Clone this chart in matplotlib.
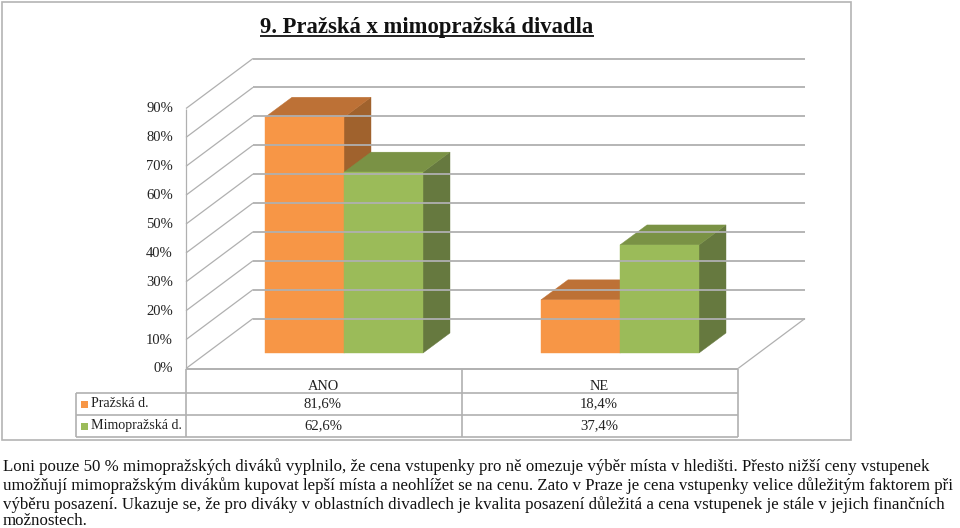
import matplotlib
matplotlib.use("Agg")
import matplotlib.pyplot as plt
from matplotlib.patches import Polygon, Rectangle

plt.rcParams['font.family'] = ['Liberation Serif', 'DejaVu Serif']

categories = ["ANO", "NE"]
series_names = ["Pražská d.", "Mimopražská d."]
prazska = [81.6, 18.4]
mimoprazska = [62.6, 37.4]
prazska_labels = ["81,6%", "18,4%"]
mimoprazska_labels = ["62,6%", "37,4%"]
ticks = [0, 10, 20, 30, 40, 50, 60, 70, 80, 90]
title = "9. Pražská x mimopražská divadla"
body = [
    "Loni pouze 50 % mimopražských diváků vyplnilo, že cena vstupenky pro ně omezuje výběr místa v hledišti. Přesto nižší ceny vstupenek",
    "umožňují mimopražským divákům kupovat lepší místa a neohlížet se na cenu. Zato v Praze je cena vstupenky velice důležitým faktorem při",
    "výběru posazení. Ukazuje se, že pro diváky v oblastních divadlech je kvalita posazení důležitá a cena vstupenek je stále v jejich finančních",
    "možnostech.",
]

GRID = "#b0b0b0"
TXT = "#222222"
colors = [("#F79646", "#BD7136", "#A0622D"), ("#9BBB59", "#7A9245", "#66793F")]

fig = plt.figure(figsize=(9.6, 5.28), dpi=100)
ax = fig.add_axes([0, 0, 1, 1])
ax.set_xlim(0, 960)
ax.set_ylim(528, 0)
ax.axis("off")

# pixels per percent and the fake 3d offsets
scale = 260 / 90
y0 = 368.5
wall_dx, wall_dy = 67, 50
bar_dx, bar_dy = 27, 20
floor_left, floor_right = 186, 738
base = 353


def line(xs, ys, lw=1.2, c=GRID):
    ax.plot(xs, ys, color=c, lw=lw, solid_capstyle="butt")


# outer frame
ax.add_patch(Rectangle((2, 2), 849, 438, fc="white", ec="#b4b4b4", lw=1.2))

# walls
for t in ticks:
    y = y0 - t * scale
    line([floor_left, floor_left + wall_dx], [y, y - wall_dy], lw=0.9)
    line([floor_left + wall_dx, floor_right + wall_dx], [y - wall_dy, y - wall_dy], lw=1.3)
    ax.text(173, y + 0.5, f"{t}%", ha="right", va="center", fontsize=10.5, color=TXT)
line([floor_left, floor_left], [y0, y0 - 90 * scale], lw=0.9)
line([floor_right, floor_right + wall_dx], [y0, y0 - wall_dy], lw=0.9)


def bar3d(x, w, val, cols):
    top = base - val * scale
    front, cap, side = cols
    ax.add_patch(Polygon([(x + w, base), (x + w + bar_dx, base - bar_dy),
                          (x + w + bar_dx, top - bar_dy), (x + w, top)], fc=side, ec=side, lw=0.3))
    ax.add_patch(Polygon([(x, top), (x + bar_dx, top - bar_dy),
                          (x + w + bar_dx, top - bar_dy), (x + w, top)], fc=cap, ec=cap, lw=0.3))
    ax.add_patch(Rectangle((x, top), w, val * scale, fc=front, ec=front, lw=0.3))


bar_w = 79
group_x = [265, 541]
for i in range(len(categories)):
    bar3d(group_x[i], bar_w, prazska[i], colors[0])
    bar3d(group_x[i] + bar_w, bar_w, mimoprazska[i], colors[1])

# data table
rows = [369, 393, 415, 437]
cols = [186, 462, 738]
tab_left = 76
line([floor_left, floor_right], [rows[0], rows[0]], lw=1.4)
for r in rows[1:]:
    line([tab_left, floor_right], [r, r])
line([tab_left, tab_left], [rows[1], rows[3]])
for x in cols:
    line([x, x], [rows[0], rows[3]])

for i, cat in enumerate(categories):
    cx = (cols[i] + cols[i + 1]) / 2 - 1
    ax.text(cx, 386, cat, ha="center", va="center", fontsize=10.4, color=TXT)
    ax.text(cx, 404, prazska_labels[i], ha="center", va="center", fontsize=10.6, color=TXT)
    ax.text(cx, 426, mimoprazska_labels[i], ha="center", va="center", fontsize=10.6, color=TXT)

for j, name in enumerate(series_names):
    yc = (rows[j + 1] + rows[j + 2]) / 2
    ax.add_patch(Rectangle((81, yc - 3.5), 7, 7, fc=colors[j][0], ec="none"))
    ax.text(91, yc - 0.5, name, ha="left", va="center", fontsize=10.1, color=TXT)

# title with underline
t = ax.text(427, 33, title, ha="center", va="baseline", fontsize=16.3, fontweight="bold", color="#111111")
bb = t.get_window_extent(fig.canvas.get_renderer()).transformed(ax.transData.inverted())
line([bb.x0, bb.x1], [36, 36], lw=1.3, c="#111111")

# paragraph under the chart
baselines = [471, 490, 509, 525]
for s, yb in zip(body, baselines):
    ax.text(3, yb, s, ha="left", va="baseline", fontsize=12.2, color="#111111")

fig.savefig("out.png", dpi=100)
